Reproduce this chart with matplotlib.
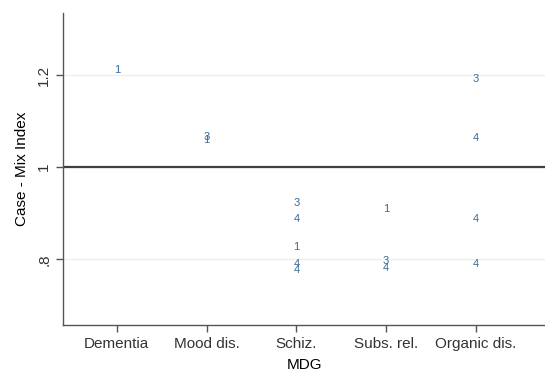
import matplotlib
matplotlib.use("Agg")
import matplotlib.pyplot as plt

plt.rcParams['font.family'] = ['Liberation Sans', 'DejaVu Sans']

categories = ["Dementia", "Mood dis.", "Schiz.", "Subs. rel.", "Organic dis."]
point_cat = [0, 1, 1, 2, 2, 2, 2, 2, 3, 3, 3, 4, 4, 4, 4]
point_val = [1.211, 1.065, 1.059, 0.922, 0.887, 0.826, 0.789, 0.776,
             0.909, 0.797, 0.780, 1.191, 1.063, 0.887, 0.789]
point_lab = ["1", "3", "1", "3", "4", "1", "4", "4",
             "1", "3", "4", "3", "4", "4", "4"]
yticks = [0.8, 1.0, 1.2]
yticklabels = [".8", "1", "1.2"]

fig = plt.figure(figsize=(5.45, 3.77), dpi=100)
ax = fig.add_axes([63/545, 52/377, 482/545, 312/377])

for v in yticks:
    ax.axhline(v, color="#eaf1f4", lw=1.0, zorder=0)
ax.axhline(1.0, color="#404040", lw=1.6, zorder=1)

for c, v, l in zip(point_cat, point_val, point_lab):
    ax.text(c, v, l, ha="center", va="center", fontsize=8, color="#3b6a94", zorder=3)

ax.set_xlim(-0.6, 4.77)
ax.set_ylim(0.657, 1.335)
ax.set_xticks(range(len(categories)))
ax.set_xticklabels(categories, fontsize=11)
ax.set_yticks(yticks)
ax.set_yticklabels(yticklabels, fontsize=11, rotation=90, va="center")
ax.set_xlabel("MDG", fontsize=11, labelpad=5)
ax.set_ylabel("Case - Mix Index", fontsize=11, labelpad=6)

for s in ["top", "right"]:
    ax.spines[s].set_visible(False)
for s in ["left", "bottom"]:
    ax.spines[s].set_color("#555555")
    ax.spines[s].set_linewidth(1.0)
ax.tick_params(colors="#555555", labelcolor="#333333", length=5, width=1)

fig.savefig("out.png", dpi=100)
